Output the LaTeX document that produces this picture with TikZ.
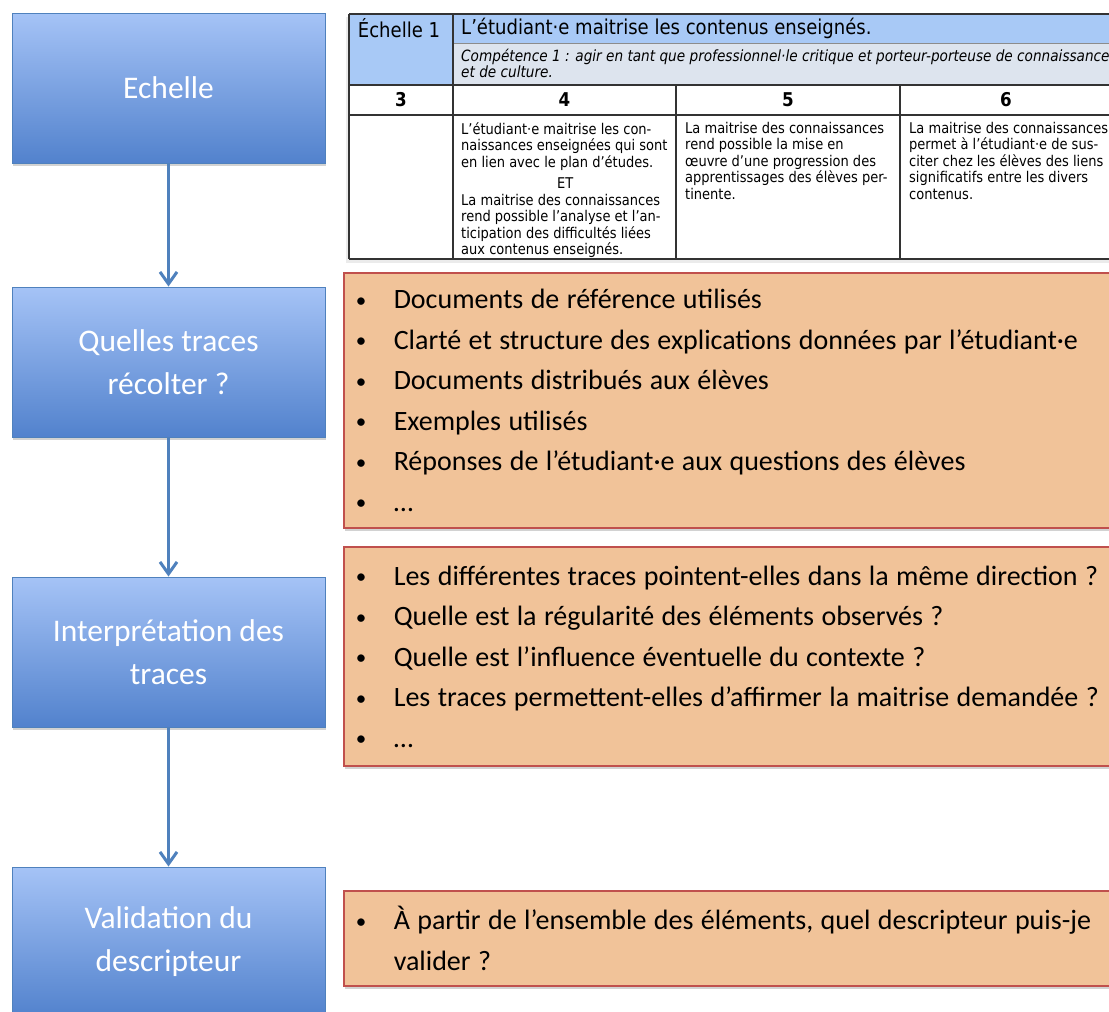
\documentclass[tikz,border=0pt]{standalone}
\usepackage{fontspec}
\setmainfont{Carlito}
\newfontfamily\tabfont[FakeStretch=0.88]{DejaVu Sans}
\usetikzlibrary{arrows.meta,shadows,positioning}

\definecolor{bleuhaut}{HTML}{A5C3F6}
\definecolor{bleubas}{HTML}{5282CD}
\definecolor{bleutrait}{HTML}{4F81BD}
\definecolor{orangefond}{HTML}{F1C399}
\definecolor{rougetrait}{HTML}{C0504D}
\definecolor{entete}{HTML}{A8C9F6}
\definecolor{soustitre}{HTML}{DDE4EE}

\newcommand{\puce}{\spaceskip=0.265em\relax\makebox[39pt][l]{\hspace{1pt}\raisebox{1.5pt}{\fontsize{21}{21}\selectfont •}}}

\tikzset{
  etape/.style={draw=bleutrait, line width=1pt, top color=bleuhaut, bottom color=bleubas,
    minimum width=313pt, minimum height=150pt, text=white, align=center,
    font=\fontsize{31.5}{43}\selectfont,
    drop shadow={shadow xshift=1pt, shadow yshift=-3pt, opacity=0.35}},
  puces/.style={draw=rougetrait, line width=1.5pt, fill=orangefond, anchor=west,
    minimum width=790pt, text width=768pt, inner xsep=11pt, align=left,
    font=\fontsize{28}{40.5}\selectfont,
    drop shadow={shadow xshift=1pt, shadow yshift=-3pt, opacity=0.35}},
  fleche/.style={draw=bleutrait, line width=3pt,
    -{Straight Barb[length=12pt, width=17pt, line width=3pt]}},
  trait/.style={draw=black!80, line width=1.3pt},
  tabtitre/.style={font=\tabfont\fontsize{20.5}{22}\selectfont, inner sep=0pt},
  tabital/.style={font=\tabfont\itshape\fontsize{15.5}{15}\selectfont, inner sep=0pt, align=left, anchor=north west},
  tabnum/.style={font=\tabfont\bfseries\fontsize{19}{20}\selectfont, inner sep=0pt},
  tabcase/.style={font=\tabfont\fontsize{14.8}{16.5}\selectfont, inner sep=0pt, align=left, anchor=north west}
}

\begin{document}
\begin{tikzpicture}[x=1pt, y=-1pt]
  \useasboundingbox (0,0) rectangle (1109,1012);
  \clip (0,0) rectangle (1109,1012);
  \fill[white] (0,0) rectangle (1109,1012);

  % Tableau
  \fill[black!8] (346,17) rectangle (1130,263);
  \fill[white] (349,14) rectangle (1130,259);
  \fill[entete] (349,14) rectangle (1130,43);
  \fill[entete] (349,43) rectangle (453,85);
  \fill[soustitre] (453,43) rectangle (1130,85);
  \draw[draw=black!45, line width=0.8pt] (453,43) -- (1130,43);
  \foreach \y in {14,85,115,259} {
      \draw[trait] (349,\y) -- (1130,\y);
  }
  \foreach \x/\y in {349/14, 453/14, 676/85, 900/85} {
      \draw[trait] (\x,\y) -- (\x,259);
  }

  \node[tabtitre] (echelle1) at (399,28) {Échelle 1};
  \node[tabtitre, anchor=west] (maitrise) at (461,28) {L’étudiant·e maitrise les contenus enseignés.};
  \node[tabital] (competence) at (461,49) {Compétence 1 : agir en tant que professionnel·le critique et porteur-porteuse de connaissances\\et de culture.};

  \foreach \x/\n in {401/3, 564.5/4, 788/5, 1006/6} {
      \node[tabnum] (niveau\n) at (\x,100) {\n};
  }

  \node[tabcase] (desc4) at (461,122) {L’étudiant·e maitrise les con-\\
    naissances enseignées qui sont\\
    en lien avec le plan d’études.\\[4.5pt]
    \makebox[208pt]{ET}\\[0.5pt]
    La maitrise des connaissances\\
    rend possible l’analyse et l’an-\\
    ticipation des difficultés liées\\
    aux contenus enseignés.};
  \node[tabcase] (desc5) at (685,122) {La maitrise des connaissances\\
    rend possible la mise en\\
    œuvre d’une progression des\\
    apprentissages des élèves per-\\
    tinente.};
  \node[tabcase] (desc6) at (909,122) {La maitrise des connaissances\\
    permet à l’étudiant·e de sus-\\
    citer chez les élèves des liens\\
    significatifs entre les divers\\
    contenus.};

  % Etapes
  \node[etape] (echelle) at (168.5,88) {Echelle};
  \node[etape] (traces) at (168.5,362) {Quelles traces\\récolter ?};
  \node[etape] (interpretation) at (168.5,652) {Interprétation des\\traces};
  \node[etape] (validation) at (168.5,942) {Validation du\\descripteur};

  \draw[fleche] (echelle.south) -- (traces.north);
  \draw[fleche] (traces.south) -- (interpretation.north);
  \draw[fleche] (interpretation.south) -- (validation.north);

  % Listes
  \node[puces, minimum height=255pt] (liste1) at (343,400.5) {%
    \puce Documents de référence utilisés\\
    \puce Clarté et structure des explications données par l’étudiant·e\\
    \puce Documents distribués aux élèves\\
    \puce Exemples utilisés\\
    \puce Réponses de l’étudiant·e aux questions des élèves\\
    \puce …};
  \node[puces, minimum height=219pt] (liste2) at (343,656.5) {%
    \puce Les différentes traces pointent-elles dans la même direction ?\\
    \puce Quelle est la régularité des éléments observés ?\\
    \puce Quelle est l’influence éventuelle du contexte ?\\
    \puce Les traces permettent-elles d’affirmer la maitrise demandée ?\\
    \puce …};
  \node[puces, minimum height=95pt] (liste3) at (343,938.5) {%
    \puce À partir de l’ensemble des éléments, quel descripteur puis-je\\
    \makebox[39pt][l]{}valider ?};
\end{tikzpicture}
\end{document}
